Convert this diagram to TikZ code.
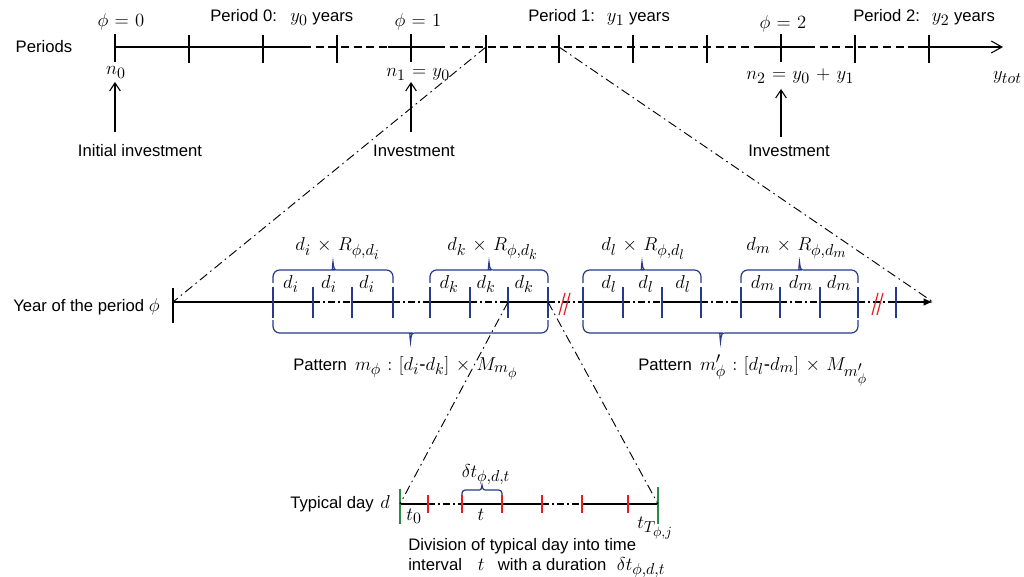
\RequirePackage{fix-cm}
\documentclass[tikz,border=0pt]{standalone}
\usepackage{fontspec}
\setsansfont{Liberation Sans}
\usetikzlibrary{arrows.meta}
\DeclareMathSizes{14}{14}{11.9}{10.5}
\definecolor{navy}{RGB}{38,58,140}
\definecolor{redm}{RGB}{230,30,35}
\definecolor{greenm}{RGB}{40,140,70}
\newcommand\mth[1]{{\fontsize{14}{16}\selectfont$#1$}}
% x1, x2, yend, yline, ytip, radius
\newcommand\bracepath[6]{%
 \draw[brc] (#1,#3) [rounded corners=#6] -- (#1,#4) -- ({(#1+#2)/2-6},#4) [sharp corners]
  .. controls ({(#1+#2)/2-1},#4) .. ({(#1+#2)/2},#5)
  .. controls ({(#1+#2)/2+1},#4) .. ({(#1+#2)/2+6},#4) [rounded corners=#6] -- (#2,#4) -- (#2,#3);}
\begin{document}
\thickmuskip=6mu plus 3mu
\medmuskip=6mu plus 2mu minus 2mu
\begin{tikzpicture}[x=0.75pt,y=-0.75pt,
 txt/.style={font=\sffamily\fontsize{12.5}{14}\selectfont, inner sep=0pt},
 mt/.style={font=\fontsize{14}{16}\selectfont, inner sep=0pt},
 ln/.style={line width=0.8pt},
 tk/.style={line width=0.8pt},
 tkb/.style={line width=1.6pt},
 dsh/.style={line width=0.8pt, dash pattern=on 6pt off 3.5pt},
 dd/.style={line width=0.8pt, dash pattern=on 5pt off 2.5pt on 1.2pt off 2.5pt},
 zoomln/.style={line width=0.7pt, dash pattern=on 7pt off 3pt on 1.2pt off 3pt},
 brc/.style={navy, line width=0.9pt},
 btk/.style={navy, line width=0.9pt},
 rtk/.style={redm, line width=0.9pt},
 gtk/.style={greenm, line width=0.9pt},
 invarrow/.style={line width=0.8pt, -{Straight Barb[length=6pt,width=8pt]}}]
\useasboundingbox[fill=white] (0,0) rectangle (1024,577);

% ---------- top timeline ----------
\foreach \n/\x in {0/115,1/189,2/263,3/337,4/411,5/486,6/559,7/633,8/707,9/781,10/855,11/929}
  {\coordinate (T\n) at (\x,47);}
\coordinate (Tend) at (1003,47);
\coordinate (s1) at (303,47); \coordinate (s2) at (388,47);
\coordinate (s3) at (437,47); \coordinate (s4) at (757,47);
\coordinate (s5) at (807,47); \coordinate (s6) at (913,47);
\draw[ln] (T0) -- (s1);
\draw[dsh] (s1) -- (s2);
\draw[ln] (s2) -- (s3);
\draw[dsh] (s3) -- (s4);
\draw[ln] (s4) -- (s5);
\draw[dsh] (s5) -- (s6);
\draw[ln, -{Straight Barb[length=8pt,width=9pt]}] (s6) -- (Tend);
\foreach \n in {1,2,3,5,6,7,8,10,11}
  {\draw[tk] ([yshift=9pt]T\n) -- ([yshift=-12pt]T\n);}
\foreach \n in {0,4,9}
  {\draw[tkb] ([yshift=9.5pt]T\n) -- ([yshift=-11pt]T\n);}

\node[txt, anchor=base] (lper) at (44,53) {Periods};
\node[mt, anchor=base] (phi0) at (121,27) {$\phi=0$};
\node[txt, anchor=base west] (p0) at (210,22) {Period 0:\hspace{10pt}\mth{y_0} years};
\node[mt, anchor=base] (phi1) at (418,27) {$\phi=1$};
\node[txt, anchor=base west] (p1) at (528,22) {Period 1:\hspace{9pt}\mth{y_1} years};
\node[mt, anchor=base] (phi2) at (783,29) {$\phi=2$};
\node[txt, anchor=base west] (p2) at (853,22) {Period 2:\hspace{9pt}\mth{y_2} years};
\node[mt, anchor=base] (n0) at (116,75) {$n_0$};
\node[mt, anchor=base west] (n1) at (386,77) {$n_1=y_0$};
\node[mt, anchor=base west] (n2) at (746,80) {$n_2=y_0+y_1$};
\node[mt, anchor=base east] (ytot) at (1022,80) {$y_{tot}$};

\coordinate (a0s) at (115,132); \coordinate (a0e) at (115,82);
\coordinate (a1s) at (411,132); \coordinate (a1e) at (411,82);
\coordinate (a2s) at (781,137); \coordinate (a2e) at (781,89);
\draw[invarrow] (a0s) -- (a0e);
\draw[invarrow] (a1s) -- (a1e);
\draw[invarrow] (a2s) -- (a2e);
\node[txt, anchor=base] (inv0) at (140,157) {Initial investment};
\node[txt, anchor=base] (inv1) at (414,157) {Investment};
\node[txt, anchor=base] (inv2) at (789,157) {Investment};

% ---------- year timeline ----------
\foreach \x in {173,273,313,352,393,430,470,508,548,583,623,662,701,741,780,820,858,896}
  {\coordinate (m\x) at (\x,302);}
\coordinate (Mend) at (933,302);
\foreach \a/\b in {173/313,352/393,430/470,508/548,583/623,662/701,741/780,820/858}
  {\draw[ln] (m\a) -- (m\b);}
\foreach \a/\b in {313/352,393/430,470/508,548/583,623/662,701/741,780/820,858/896}
  {\draw[dd] (m\a) -- (m\b);}
\draw[ln, -{Latex[length=7pt,width=5.5pt]}] (m896) -- (Mend);
\draw[tkb] (173,288) -- (173,323);
\foreach \x in {273,313,352,393,430,470,508,548,583,623,662,701,741,780,820,858,896}
  {\draw[btk] (\x,287) -- (\x,318);}
\draw[rtk] (559,315) -- (565,293); \draw[rtk] (564,315) -- (570,293);
\draw[rtk] (872,315) -- (878,293); \draw[rtk] (877,315) -- (883,293);

\node[txt, anchor=base west] (lyear) at (13,311) {Year of the period \mth{\phi}};

% zoom lines top -> year
\draw[zoomln] (T5) -- (m173);
\draw[zoomln] (T6) -- (Mend);

% braces
\bracepath{273}{393}{283}{270}{262}{5pt}
\bracepath{430}{548}{283}{270}{262}{5pt}
\bracepath{583}{701}{283}{270}{262}{5pt}
\bracepath{741}{858}{283}{270}{262}{5pt}
\bracepath{273}{548}{320}{333}{342}{5pt}
\bracepath{583}{858}{320}{333}{342}{5pt}

\node[mt, anchor=base west] (ri) at (295,251) {$d_i\times R_{\phi,d_i}$};
\node[mt, anchor=base west] (rk) at (447,251) {$d_k\times R_{\phi,d_k}$};
\node[mt, anchor=base west] (rl) at (601,251) {$d_l\times R_{\phi,d_l}$};
\node[mt, anchor=base west] (rm) at (746,251) {$d_m\times R_{\phi,d_m}$};
\foreach \x [count=\i] in {291,329,367} {\node[mt, anchor=base] (di\i) at (\x,288) {$d_i$};}
\foreach \x [count=\i] in {449,486,524} {\node[mt, anchor=base] (dk\i) at (\x,288) {$d_k$};}
\foreach \x [count=\i] in {609,646,683} {\node[mt, anchor=base] (dl\i) at (\x,288) {$d_l$};}
\foreach \x [count=\i] in {763,801,839} {\node[mt, anchor=base] (dm\i) at (\x,288) {$d_m$};}

\node[txt, anchor=base west] (pat1) at (293,370) {Pattern\hspace{6pt}\mth{m_\phi : [d_i\mbox{-}d_k] \times M_{m_\phi}}};
\node[txt, anchor=base west] (pat2) at (638,370) {Pattern\hspace{6pt}\mth{m'_\phi : [d_l\mbox{-}d_m] \times M_{m'_\phi}}};

% ---------- typical day ----------
\foreach \x in {400,428,462,502,542,582,628,658}
  {\coordinate (b\x) at (\x,504);}
\draw[ln] (b400) -- (b428);
\draw[dd] (b428) -- (b462);
\draw[ln] (b462) -- (b542);
\draw[dd] (b542) -- (b582);
\draw[ln] (b582) -- (b658);
\foreach \x in {428,462,502,542,582,628}
  {\draw[rtk] (\x,495) -- (\x,513);}
\draw[gtk] (400,489) -- (400,524);
\draw[gtk] (658,487) -- (658,524);
\draw[zoomln] (m508) -- (b400);
\draw[zoomln] (m548) -- (b658);
\bracepath{462}{502}{495}{490}{485}{2.5pt}

\node[txt, anchor=base west] (ltd) at (290,508) {Typical day\hspace{5pt}\mth{d}};
\node[mt, anchor=base] (t0) at (414,520) {$t_0$};
\node[mt, anchor=base] (tt) at (481,520) {$t$};
\node[mt, anchor=base west] (tT) at (637,528) {$t_{T_{\phi,j}}$};
\node[mt, anchor=base] (dlt) at (486,477) {$\delta t_{\phi,d,t}$};
\node[txt, anchor=base west] (div1) at (408,550) {Division of typical day into time};
\node[txt, anchor=base west] (div2) at (408,570) {interval\hspace{12pt}\mth{t}\hspace{10pt}with a duration\hspace{8pt}\mth{\delta t_{\phi,d,t}}};
\end{tikzpicture}
\end{document}
